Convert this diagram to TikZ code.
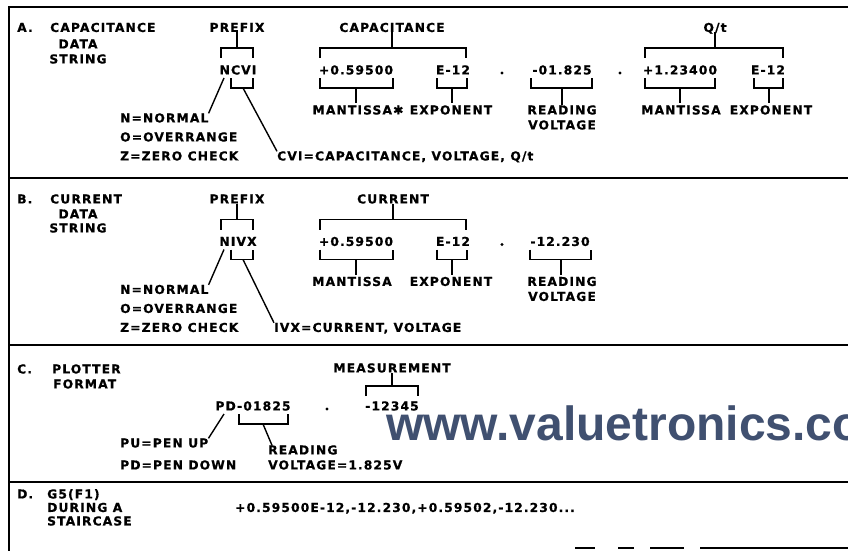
\documentclass[tikz,border=0pt]{standalone}
\usepackage{fontspec}
\newfontfamily\plotfamily[LetterSpace=9, BoldFeatures={FakeBold=0.7}]{DejaVu Sans}
\newfontfamily\wmfamily{Liberation Sans}
\newcommand\plotfont{\plotfamily\bfseries\fontsize{12.3pt}{14pt}\selectfont}
\definecolor{wmblue}{RGB}{64,80,112}
\begin{document}
\begin{tikzpicture}[x=1pt,y=-1pt,
  lbl/.style={font=\plotfont, inner sep=0pt, text height=8.9pt, text depth=0pt},
  br/.style={line width=1.8pt},
  lead/.style={line width=1.4pt},
  frm/.style={line width=1.9pt},
  sepdot/.style={fill, circle, inner sep=0pt, minimum size=3.4pt}]
\useasboundingbox (0,0) rectangle (848,551);
\fill[white] (0,0) rectangle (848,551);
\clip (0,0) rectangle (848,551);

% ---------- frame ----------
\draw[frm] (9,551) -- (9,7) -- (848,7);
\draw[frm] (9,178) -- (848,178);
\draw[frm] (9,345) -- (848,345);
\draw[frm] (9,482) -- (848,482);
\draw[frm] (575,548) -- (595,548) (618,548) -- (634,548) (650,548) -- (684,548) (700,548) -- (848,548);

% ---------- watermark ----------
\node[anchor=base west, inner sep=0pt, text=wmblue,
  font=\wmfamily\bfseries\fontsize{48pt}{50pt}\selectfont] (wm) at (386,440) {www.valuetronics.com};

% ================= A =================
\node[lbl, anchor=west] (aA) at (17,27.5) {A.};
\node[lbl, anchor=west] (aCap) at (50,27.5) {CAPACITANCE};
\node[lbl] (aData) at (78,44) {DATA};
\node[lbl] (aStr) at (78,59) {STRING};

\node[lbl] (aPre) at (237,27.5) {PREFIX};
\draw[br] (aPre.south) -- (237,48);
\draw[br] (221,58) -- (221,48) -- (253,48) -- (253,58);
\node[lbl] (aNcvi) at (238,70) {NCVI};
\draw[br] (231,78) -- (231,88) -- (253,88) -- (253,78);
\coordinate (aNtop) at (224,78);
\coordinate (aCvib) at (243,88);
\node[lbl, anchor=west] (aN) at (120,118) {N=NORMAL};
\node[lbl, anchor=west] (aO) at (120,137) {O=OVERRANGE};
\node[lbl, anchor=west] (aZ) at (120,156) {Z=ZERO CHECK};
\node[lbl, anchor=west] (aCvi) at (277,156) {CVI=CAPACITANCE, VOLTAGE, Q/t};
\draw[lead] (aNtop) -- (aN.north east);
\draw[lead] (aCvib) -- (aCvi.north west);

\node[lbl] (aCapL) at (392,27.5) {CAPACITANCE};
\draw[br] (aCapL.south) -- (392,48);
\draw[br] (320,58) -- (320,48) -- (466,48) -- (466,58);
\node[lbl] (aMan) at (356,70) {+0.59500};
\node[lbl] (aExp) at (453,70) {E-12};
\node[sepdot] (aDot1) at (502,73) {};
\node[lbl] (aRead) at (562,70) {-01.825};
\node[sepdot] (aDot2) at (620,73) {};
\node[lbl] (aQL) at (715,27.5) {Q/t};
\draw[br] (aQL.south) -- (715,48);
\draw[br] (645,58) -- (645,48) -- (783,48) -- (783,58);
\node[lbl] (aMan2) at (680,70) {+1.23400};
\node[lbl] (aExp2) at (768,70) {E-12};

\draw[br] (320,78) -- (320,88) -- (393,88) -- (393,78);
\draw[br] (437,78) -- (437,88) -- (467,88) -- (467,78);
\draw[br] (531,78) -- (531,88) -- (592,88) -- (592,78);
\draw[br] (645,78) -- (645,88) -- (715,88) -- (715,78);
\draw[br] (754,78) -- (754,88) -- (783,88) -- (783,78);

\node[lbl] (aManL) at (358,110) {MANTISSA✱};
\node[lbl] (aExpL) at (451,110) {EXPONENT};
\node[lbl] (aRdL) at (562,110) {READING};
\node[lbl] (aVoL) at (562,125) {VOLTAGE};
\node[lbl] (aManL2) at (681,110) {MANTISSA};
\node[lbl] (aExpL2) at (771,110) {EXPONENT};
\draw[br] (356,88) -- (356,103);
\draw[br] (452,88) -- (452,103);
\draw[br] (562,88) -- (aRdL.north);
\draw[br] (680,88) -- (680,103);
\draw[br] (769,88) -- (769,103);

% ================= B =================
\node[lbl, anchor=west] (bB) at (17,199) {B.};
\node[lbl, anchor=west] (bCur) at (50,199) {CURRENT};
\node[lbl] (bData) at (78,214) {DATA};
\node[lbl] (bStr) at (78,228) {STRING};

\node[lbl] (bPre) at (237,199) {PREFIX};
\draw[br] (bPre.south) -- (237,219.5);
\draw[br] (221,229.5) -- (221,219.5) -- (253,219.5) -- (253,229.5);
\node[lbl] (bNivx) at (238,241.5) {NIVX};
\draw[br] (231,249.5) -- (231,259.5) -- (253,259.5) -- (253,249.5);
\coordinate (bNtop) at (224,249.5);
\coordinate (bIvxb) at (243,259.5);
\node[lbl, anchor=west] (bN) at (120,289.5) {N=NORMAL};
\node[lbl, anchor=west] (bO) at (120,308.5) {O=OVERRANGE};
\node[lbl, anchor=west] (bZ) at (120,327.5) {Z=ZERO CHECK};
\node[lbl, anchor=west] (bIvx) at (274,327.5) {IVX=CURRENT, VOLTAGE};
\draw[lead] (bNtop) -- (bN.north east);
\draw[lead] (bIvxb) -- (bIvx.north west);

\node[lbl] (bCurL) at (393,199) {CURRENT};
\draw[br] (bCurL.south) -- (393,219.5);
\draw[br] (320,229.5) -- (320,219.5) -- (466,219.5) -- (466,229.5);
\node[lbl] (bMan) at (356,241.5) {+0.59500};
\node[lbl] (bExp) at (453,241.5) {E-12};
\node[sepdot] (bDot) at (502,244.5) {};
\node[lbl] (bRead) at (560,241.5) {-12.230};
\draw[br] (320,249.5) -- (320,259.5) -- (393,259.5) -- (393,249.5);
\draw[br] (437,249.5) -- (437,259.5) -- (467,259.5) -- (467,249.5);
\draw[br] (530,249.5) -- (530,259.5) -- (591,259.5) -- (591,249.5);
\node[lbl] (bManL) at (352,281.5) {MANTISSA};
\node[lbl] (bExpL) at (451,281.5) {EXPONENT};
\node[lbl] (bRdL) at (562,281.5) {READING};
\node[lbl] (bVoL) at (562,296.5) {VOLTAGE};
\draw[br] (356,259.5) -- (356,274.5);
\draw[br] (452,259.5) -- (452,274.5);
\draw[br] (561,259.5) -- (561,274.5);

% ================= C =================
\node[lbl, anchor=west] (cC) at (17,369) {C.};
\node[lbl, anchor=west] (cPl) at (52,369) {PLOTTER};
\node[lbl, anchor=west] (cFm) at (53,384) {FORMAT};
\node[lbl] (cMeas) at (392,368) {MEASUREMENT};
\draw[br] (cMeas.south) -- (392,386);
\draw[br] (366,396) -- (366,386) -- (418,386) -- (418,396);
\node[lbl] (cVal) at (392,406) {-12345};
\node[lbl] (cPd) at (253,406) {PD-01825};
\node[sepdot] (cDot) at (327,409) {};
\draw[br] (239,414) -- (239,424) -- (288,424) -- (288,414);
\coordinate (cPbot) at (224,414);
\coordinate (cBrb) at (263,424);
\node[lbl, anchor=west] (cPu) at (120,443) {PU=PEN UP};
\node[lbl, anchor=west] (cPdL) at (120,465) {PD=PEN DOWN};
\node[lbl, anchor=west] (cRd) at (268,450) {READING};
\node[lbl, anchor=west] (cVo) at (268,465) {VOLTAGE=1.825V};
\draw[lead] (cPbot) -- (cPu.north east);
\draw[lead] (cBrb) -- ([xshift=4pt]cRd.north west);

% ================= D =================
\node[lbl, anchor=west] (dD) at (17,494) {D.};
\node[lbl, anchor=west] (dG) at (47,494) {G5(F1)};
\node[lbl, anchor=west] (dDu) at (47,507.5) {DURING A};
\node[lbl, anchor=west] (dSt) at (47,521) {STAIRCASE};
\node[lbl, anchor=west] (dStr) at (235,507.5) {+0.59500E-12,-12.230,+0.59502,-12.230...};
\end{tikzpicture}
\end{document}
